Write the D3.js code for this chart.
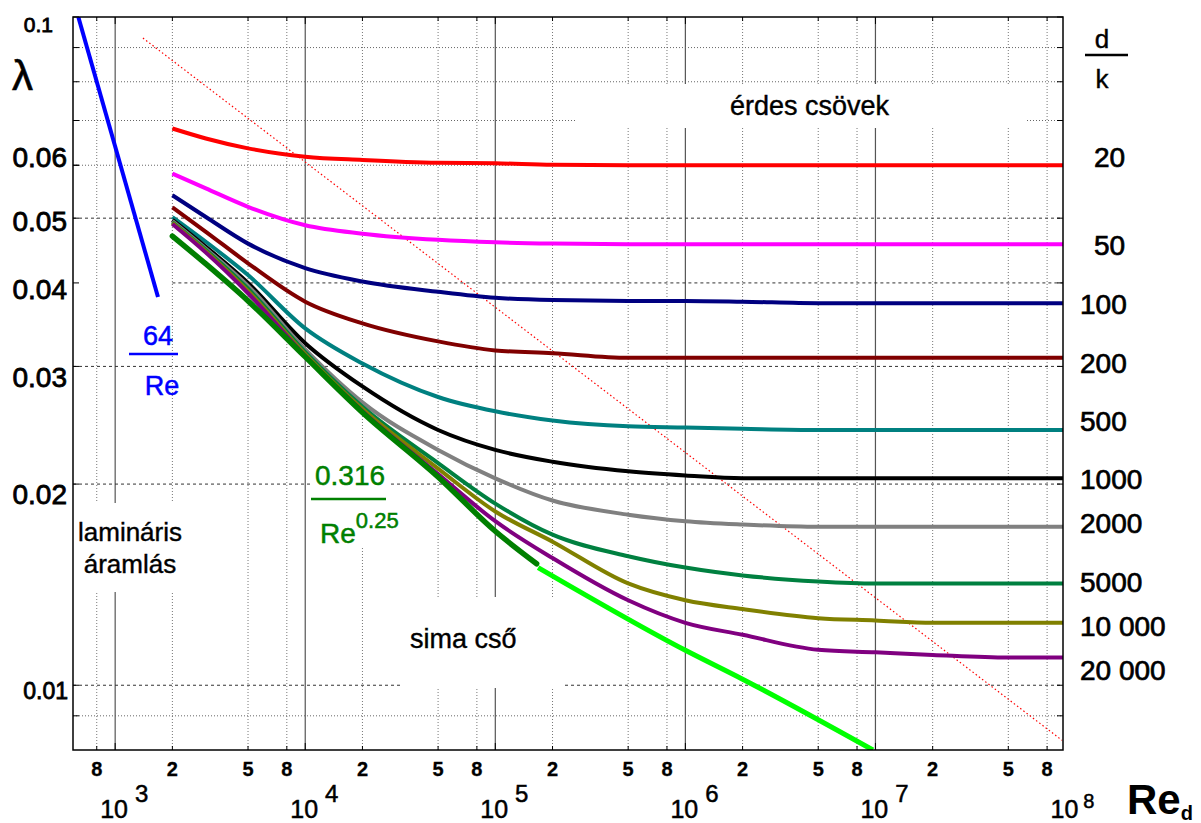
<!DOCTYPE html>
<html>
<head>
<meta charset="utf-8">
<script src="https://cdn.jsdelivr.net/npm/d3@7"></script>
<style>
  body { margin: 0; background: #fff; }
  text { font-family: "Liberation Sans", Arial, sans-serif; }
</style>
</head>
<body>
<div id="chart"></div>
<script>
// Re values where the rough-pipe curves were read off
const reSteps = [2e3, 3e3, 5e3, 1e4, 2e4, 5e4, 1e5, 2e5, 5e5, 1e6, 2e6, 5e6, 1e7, 2e7, 5e7, 9.7e7]

const dkLabels = ["20", "50", "100", "200", "500", "1000", "2000", "5000", "10 000", "20 000"]
const dkColors = ["#ff0000", "#ff00ff", "#000080", "#800000", "#008080", "#000000", "#808080", "#008040", "#808000", "#800080"]

const lambda20    = [.0681, .0658, .0636, .0618, .0611, .0605, .0604, .0601, .0600, .0600, .0600, .0600, .0600, .0600, .0600, .0600]
const lambda50    = [.0583, .0554, .0520, .0488, .0474, .0464, .0460, .0458, .0457, .0457, .0457, .0457, .0457, .0457, .0457, .0457]
const lambda100   = [.0541, .0502, .0458, .0421, .0402, .0388, .0380, .0377, .0376, .0376, .0375, .0373, .0373, .0373, .0373, .0373]
const lambda200   = [.0519, .0477, .0428, .0375, .0348, .0327, .0317, .0314, .0309, .0309, .0309, .0309, .0309, .0309, .0309, .0309]
const lambda500   = [.0502, .0461, .0411, .0342, .0303, .0270, .0257, .0249, .0244, .0243, .0242, .0241, .0241, .0241, .0241, .0241]
const lambda1000  = [.0497, .0453, .0400, .0325, .0280, .0241, .0225, .0216, .0209, .0206, .0204, .0204, .0204, .0204, .0204, .0204]
const lambda2000  = [.0495, .0450, .0396, .0318, .0265, .0225, .0204, .0189, .0180, .0176, .0174, .01726, .01726, .01726, .01726, .01726]
const lambda5000  = [.0493, .0448, .0392, .0315, .0261, .0215, .0187, .0168, .0156, .0150, .0146, .0143, .0142, .0142, .0142, .0142]
const lambda10000 = [.0492, .0446, .0389, .0313, .0259, .0211, .0182, .0164, .0142, .0134, .0130, .0126, .0125, .0124, .0124, .0124]
const lambda20000 = [.0490, .0444, .0386, .0311, .0257, .0207, .0176, .0155, .0134, .0124, .0119, .0113, .0112, .0111, .0110, .0110]

const roughSeries = [lambda20, lambda50, lambda100, lambda200, lambda500, lambda1000, lambda2000, lambda5000, lambda10000, lambda20000]

// where the d/k labels sit (lambda at label centre)
const dkLabelLambda = [.06163, .04558, .03719, .03034, .02484, .02034, .01747, .01426, .01226, .01053]

// smooth pipe (0.316/Re^0.25) and its extension
const reSmooth = [2e3, 3e3, 5e3, 1e4, 2e4, 5e4, 1e5, 1.65e5]
const lambdaSmooth = [.0470, .0427, .0376, .0310, .0256, .0205, .0170, .0152]
const reSmoothExt = [1.68e5, 1e6, 2e6, 9.7e6]
const lambdaSmoothExt = [.0150, .01128, .01021, .0080]

// laminar 64/Re
const reLaminar = [640, 1680]
const lambdaLaminar = [0.1, 0.0381]

// boundary of the rough region (red dotted)
const reLimit = [1400, 9.6e7]
const lambdaLimit = [0.093, 0.00827]

// axes
const xDecades = [1e3, 1e4, 1e5, 1e6, 1e7, 1e8]
const xExponents = ["3", "4", "5", "6", "7", "8"]
const xMinor = [800, 2e3, 5e3, 8e3, 2e4, 5e4, 8e4, 2e5, 5e5, 8e5, 2e6, 5e6, 8e6, 2e7, 5e7, 8e7]
const xMinorLabels = ["8", "2", "5", "8", "2", "5", "8", "2", "5", "8", "2", "5", "8", "2", "5", "8"]
const yDashed = [0.01, 0.02, 0.03, 0.04, 0.05]
const yDotted = [0.009, 0.06, 0.07, 0.08, 0.09]
const yTicks = [0.1, 0.06, 0.05, 0.04, 0.03, 0.02, 0.01]
const yTickLabels = ["0.1", "0.06", "0.05", "0.04", "0.03", "0.02", "0.01"]
const yLabelSize = [21, 28, 28, 28, 28, 28, 23]
const yLabelShift = [7.5, -8, 3, 6, 11, 10, 5]
const yLabelEnd = [53, 67, 67, 67, 67, 67, 68]

const W = 1201, H = 823
const pLeft = 73, pRight = 1063, pTop = 17, pBottom = 750

const x = d3.scaleLog().domain([600, 9.7e7]).range([pLeft, pRight])
const y = d3.scaleLog().domain([0.008, 0.1]).range([pBottom, pTop])

const svg = d3.select("#chart").append("svg")
  .attr("width", W)
  .attr("height", H)

svg.append("defs").append("clipPath").attr("id", "plot")
  .append("rect")
  .attr("x", pLeft).attr("y", pTop)
  .attr("width", pRight - pLeft).attr("height", pBottom - pTop)

// grid
const grid = svg.append("g")

grid.selectAll(".vminor")
  .data(xMinor)
  .join("line")
  .attr("x1", d => x(d)).attr("x2", d => x(d))
  .attr("y1", pTop).attr("y2", pBottom)
  .attr("stroke", "#777").attr("stroke-width", 1)
  .attr("stroke-dasharray", "1,2")

grid.selectAll(".vmajor")
  .data(xDecades.slice(0, 5))
  .join("line")
  .attr("x1", d => x(d)).attr("x2", d => x(d))
  .attr("y1", pTop).attr("y2", pBottom)
  .attr("stroke", "#555").attr("stroke-width", 1.2)

grid.selectAll(".hdot")
  .data(yDotted)
  .join("line")
  .attr("x1", pLeft).attr("x2", pRight)
  .attr("y1", d => y(d)).attr("y2", d => y(d))
  .attr("stroke", "#666").attr("stroke-width", 1)
  .attr("stroke-dasharray", "1,2")

grid.selectAll(".hdash")
  .data(yDashed)
  .join("line")
  .attr("x1", d => d === 0.04 ? x(2000) : pLeft).attr("x2", pRight)
  .attr("y1", d => y(d)).attr("y2", d => y(d))
  .attr("stroke", "#333").attr("stroke-width", 1)
  .attr("stroke-dasharray", "3,3")

// white backgrounds of the text boxes
const boxes = [
  [575, 84, 450, 44],
  [73.5, 503, 117, 89],
  [311, 460, 79, 88],
  [400, 597, 165, 91]
]
svg.selectAll(".box")
  .data(boxes)
  .join("rect")
  .attr("x", d => d[0]).attr("y", d => d[1])
  .attr("width", d => d[2]).attr("height", d => d[3])
  .attr("fill", "#fff")

// ticks
const ticks = svg.append("g").attr("stroke", "#000").attr("stroke-width", 1)
xMinor.concat(xDecades.slice(0, 5)).forEach(v => {
  const len = xDecades.includes(v) ? 7 : 4
  ticks.append("line").attr("x1", x(v)).attr("x2", x(v)).attr("y1", pBottom).attr("y2", pBottom - len)
  ticks.append("line").attr("x1", x(v)).attr("x2", x(v)).attr("y1", pTop).attr("y2", pTop + len)
})
yTicks.concat(yDotted).forEach(v => {
  ticks.append("line").attr("x1", pLeft).attr("x2", pLeft + 6).attr("y1", y(v)).attr("y2", y(v))
  ticks.append("line").attr("x1", pRight).attr("x2", pRight - 6).attr("y1", y(v)).attr("y2", y(v))
})

// curves
const plot = svg.append("g").attr("clip-path", "url(#plot)")
const line = d3.line().x(d => x(d[0])).y(d => y(d[1]))
const smoothLine = d3.line().x(d => x(d[0])).y(d => y(d[1])).curve(d3.curveMonotoneX)

plot.append("path")
  .attr("d", line(reLimit.map((r, i) => [r, lambdaLimit[i]])))
  .attr("fill", "none")
  .attr("stroke", "#ff0000").attr("stroke-width", 1.2)
  .attr("stroke-dasharray", "1.5,2.5")

plot.selectAll(".rough")
  .data(roughSeries)
  .join("path")
  .attr("d", s => smoothLine(reSteps.map((r, i) => [r, s[i]])))
  .attr("fill", "none")
  .attr("stroke", (s, i) => dkColors[i])
  .attr("stroke-width", 4)
  .attr("stroke-linejoin", "round")

plot.append("path")
  .attr("d", smoothLine(reSmooth.map((r, i) => [r, lambdaSmooth[i]])))
  .attr("fill", "none")
  .attr("stroke", "#007f00").attr("stroke-width", 5.5)
  .attr("stroke-linecap", "round")

plot.append("path")
  .attr("d", smoothLine(reSmoothExt.map((r, i) => [r, lambdaSmoothExt[i]])))
  .attr("fill", "none")
  .attr("stroke", "#00ff00").attr("stroke-width", 5)

plot.append("path")
  .attr("d", line(reLaminar.map((r, i) => [r, lambdaLaminar[i]])))
  .attr("fill", "none")
  .attr("stroke", "#0000ff").attr("stroke-width", 4)

// frame
svg.append("rect")
  .attr("x", pLeft).attr("y", pTop)
  .attr("width", pRight - pLeft).attr("height", pBottom - pTop)
  .attr("fill", "none").attr("stroke", "#000").attr("stroke-width", 1.5)

// y tick labels
svg.selectAll(".ylab")
  .data(yTicks)
  .join("text")
  .attr("x", (d, i) => yLabelEnd[i])
  .attr("y", (d, i) => y(d) + yLabelShift[i] + 0.36 * yLabelSize[i])
  .attr("text-anchor", "end")
  .attr("font-size", (d, i) => yLabelSize[i])
  .attr("stroke", "#000").attr("stroke-width", 0.8)
  .text((d, i) => yTickLabels[i])

svg.append("text")
  .attr("x", 12).attr("y", 90)
  .attr("font-size", 42)
  .attr("stroke", "#000").attr("stroke-width", 0.6)
  .text("λ")

// x tick labels
svg.selectAll(".xlab")
  .data(xMinor)
  .join("text")
  .attr("x", d => x(d))
  .attr("y", 776)
  .attr("text-anchor", "middle")
  .attr("font-size", 20)
  .attr("font-weight", "bold")
  .attr("stroke", "#000").attr("stroke-width", 0.3)
  .text((d, i) => xMinorLabels[i])

xDecades.forEach((d, i) => {
  const last = i === xDecades.length - 1
  const t = svg.append("text")
    .attr("x", x(d) - 15).attr("y", 818)
    .attr("font-size", 25)
    .attr("stroke", "#000").attr("stroke-width", 0.5)
  t.append("tspan").text("10")
  t.append("tspan")
    .attr("dx", last ? 5 : 7)
    .attr("dy", last ? -10 : -16)
    .attr("font-size", last ? 20 : 24)
    .text(xExponents[i])
})

const reLab = svg.append("text")
  .attr("x", 1127).attr("y", 814)
  .attr("font-size", 42).attr("font-weight", "bold")
reLab.append("tspan").text("Re")
reLab.append("tspan").attr("dy", 6).attr("font-size", 20).text("d")

// d/k labels
svg.append("text").attr("x", 1102).attr("y", 48).attr("text-anchor", "middle")
  .attr("font-size", 26).attr("stroke", "#000").attr("stroke-width", 0.4).text("d")
svg.append("line").attr("x1", 1085).attr("x2", 1128).attr("y1", 55).attr("y2", 55)
  .attr("stroke", "#000").attr("stroke-width", 2.5)
svg.append("text").attr("x", 1102).attr("y", 88).attr("text-anchor", "middle")
  .attr("font-size", 26).attr("stroke", "#000").attr("stroke-width", 0.4).text("k")

svg.selectAll(".dklab")
  .data(dkLabels)
  .join("text")
  .attr("x", 1080)
  .attr("dx", d => d.length < 3 ? 14 : 0)
  .attr("y", (d, i) => y(dkLabelLambda[i]) + 10)
  .attr("font-size", 28)
  .attr("stroke", "#000").attr("stroke-width", 0.7)
  .text(d => d)

// region texts
svg.append("text").attr("x", 730).attr("y", 115)
  .attr("font-size", 27).attr("stroke", "#000").attr("stroke-width", 0.4)
  .text("érdes csövek")

svg.append("text").attr("x", 130).attr("y", 541).attr("text-anchor", "middle")
  .attr("font-size", 26).attr("stroke", "#000").attr("stroke-width", 0.4)
  .text("lamináris")
svg.append("text").attr("x", 130).attr("y", 573).attr("text-anchor", "middle")
  .attr("font-size", 26).attr("stroke", "#000").attr("stroke-width", 0.4)
  .text("áramlás")

svg.append("text").attr("x", 410).attr("y", 648)
  .attr("font-size", 27).attr("stroke", "#000").attr("stroke-width", 0.4)
  .text("sima cső")

// 64/Re
svg.append("text").attr("x", 158).attr("y", 345).attr("text-anchor", "middle")
  .attr("font-size", 27).attr("fill", "#0000ff").attr("stroke", "#0000ff").attr("stroke-width", 0.5)
  .text("64")
svg.append("line").attr("x1", 129).attr("x2", 178).attr("y1", 354).attr("y2", 354)
  .attr("stroke", "#0000ff").attr("stroke-width", 2.5)
svg.append("text").attr("x", 162).attr("y", 395).attr("text-anchor", "middle")
  .attr("font-size", 27).attr("fill", "#0000ff").attr("stroke", "#0000ff").attr("stroke-width", 0.5)
  .text("Re")

// 0.316/Re^0.25
const g316 = "#008000"
svg.append("text").attr("x", 315).attr("y", 485)
  .attr("font-size", 28).attr("fill", g316).attr("stroke", g316).attr("stroke-width", 0.5)
  .text("0.316")
svg.append("line").attr("x1", 311).attr("x2", 386).attr("y1", 499).attr("y2", 499)
  .attr("stroke", g316).attr("stroke-width", 2.5)
const reExp = svg.append("text").attr("x", 320).attr("y", 543)
  .attr("font-size", 28).attr("fill", g316).attr("stroke", g316).attr("stroke-width", 0.5)
reExp.append("tspan").text("Re")
reExp.append("tspan").attr("dy", -15).attr("font-size", 22).text("0.25")
</script>
</body>
</html>
